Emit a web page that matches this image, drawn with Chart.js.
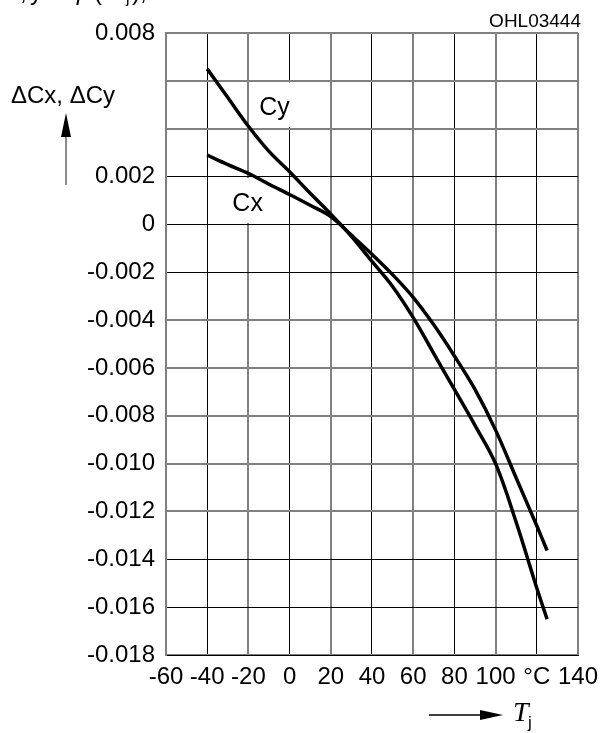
<!DOCTYPE html>
<html>
<head>
<meta charset="utf-8">
<script src="https://cdn.jsdelivr.net/npm/chart.js@4.4.1/dist/chart.umd.min.js"></script>
<style>
  body { margin: 0; background: #fff; }
  canvas { display: block; }
</style>
</head>
<body>
<canvas id="grafico" width="606" height="733"></canvas>
<script>
// temperaturas (°C)
const temperaturas = [-40, -30, -20, -10, 0, 10, 20, 30, 40, 50, 60, 70, 80, 90, 100, 110, 120, 125];
// curva Cy
const valoresCy = [0.0065, 0.0053, 0.0041, 0.00305, 0.0022, 0.0013, 0.00043, -0.0005, -0.00155, -0.0026, -0.0039, -0.0054, -0.0069, -0.0084, -0.0100, -0.01245, -0.0152, -0.0165];
// curva Cx
const valoresCx = [0.0029, 0.0025, 0.00213, 0.00168, 0.00125, 0.0008, 0.00033, -0.00045, -0.00125, -0.0021, -0.00305, -0.0042, -0.0055, -0.0069, -0.0086, -0.0106, -0.0126, -0.01363];
// etiquetas de los ejes
const etiquetasX = ["-60", "-40", "-20", "0", "20", "40", "60", "80", "100", "°C", "140"];
const ticksYOcultos = [0.006, 0.004];
const lineasYNegras = [0.002, 0, -0.002, -0.014, -0.016];

const fuente = "'Liberation Sans', Arial, sans-serif";

function puntos(valores) {
    return temperaturas.map((t, i) => ({ x: t, y: valores[i] }));
}

function esNegra(v) {
    return lineasYNegras.some(n => Math.abs(n - v) < 1e-6);
}

// etiquetas Cy / Cx con fondo blanco (tapan la cuadricula)
const pluginEtiquetas = {
    id: "etiquetas",
    beforeDatasetsDraw(chart) {
        const ctx = chart.ctx;
        const x = chart.scales.x;
        const y = chart.scales.y;
        ctx.save();
        ctx.fillStyle = "#fff";
        // caja Cy
        ctx.fillRect(x.getPixelForValue(-16), y.getPixelForValue(0.006) + 1.5,
            x.getPixelForValue(1.5) - x.getPixelForValue(-16), y.getPixelForValue(0.004) - y.getPixelForValue(0.006) - 3);
        // caja Cx
        ctx.fillRect(x.getPixelForValue(-29), y.getPixelForValue(0.002) + 1.5,
            x.getPixelForValue(-12) - x.getPixelForValue(-29), y.getPixelForValue(0) - y.getPixelForValue(0.002) - 3);
        ctx.fillStyle = "#000";
        ctx.font = "25px " + fuente;
        ctx.textBaseline = "alphabetic";
        ctx.fillText("Cy", x.getPixelForValue(-14.7), y.getPixelForValue(0.00457));
        ctx.fillText("Cx", x.getPixelForValue(-27.8), y.getPixelForValue(0.00057));
        ctx.restore();
    },
    afterDraw(chart) {
        const ctx = chart.ctx;
        ctx.save();
        ctx.fillStyle = "#000";
        ctx.strokeStyle = "#000";
        ctx.textBaseline = "alphabetic";

        // texto superior cortado
        const base = 0;
        ctx.font = "24px " + fuente;
        ctx.fillText("x,", 8, base);
        ctx.fillText("y", 30, base);
        ctx.fillText("=", 52, base);
        ctx.font = "italic 26px 'Liberation Serif', serif";
        ctx.fillText("f", 76, base);
        ctx.font = "24px " + fuente;
        ctx.fillText("(", 94, base);
        ctx.font = "italic 26px 'Liberation Serif', serif";
        ctx.fillText("T", 104, base);
        ctx.font = "16px " + fuente;
        ctx.fillText("j", 126, base + 3);
        ctx.font = "24px " + fuente;
        ctx.fillText("),", 132, base);
        ctx.fillText("I", 172, base);

        // codigo de la figura
        ctx.font = "19px " + fuente;
        ctx.textAlign = "right";
        ctx.fillText("OHL03444", 581, 27);
        ctx.textAlign = "left";

        // titulo del eje Y
        ctx.font = "24px " + fuente;
        ctx.fillText("\u0394Cx, \u0394Cy", 11, 103);

        // flecha hacia arriba
        ctx.strokeStyle = "#666";
        ctx.lineWidth = 1.5;
        ctx.beginPath();
        ctx.moveTo(66, 185);
        ctx.lineTo(66, 132);
        ctx.stroke();
        ctx.beginPath();
        ctx.moveTo(66, 113);
        ctx.lineTo(71, 137);
        ctx.lineTo(61, 137);
        ctx.closePath();
        ctx.fill();

        // flecha del eje X
        ctx.strokeStyle = "#000";
        ctx.beginPath();
        ctx.moveTo(429, 715);
        ctx.lineTo(484, 715);
        ctx.stroke();
        ctx.beginPath();
        ctx.moveTo(503, 715);
        ctx.lineTo(480, 710);
        ctx.lineTo(480, 720);
        ctx.closePath();
        ctx.fill();

        ctx.font = "italic 28px 'Liberation Serif', serif";
        ctx.fillText("T", 513, 721);
        ctx.font = "17px " + fuente;
        ctx.fillText("j", 528, 728);
        ctx.restore();
    }
};

const ctx = document.getElementById("grafico").getContext("2d");
const grafico = new Chart(ctx, {
    type: "line",
    data: {
        datasets: [
            {
                label: "Cy",
                data: puntos(valoresCy),
                borderColor: "#000",
                borderWidth: 3.5,
                pointRadius: 0,
                tension: 0.35,
                fill: false
            },
            {
                label: "Cx",
                data: puntos(valoresCx),
                borderColor: "#000",
                borderWidth: 3.5,
                pointRadius: 0,
                tension: 0.35,
                fill: false
            }
        ]
    },
    options: {
        responsive: false,
        devicePixelRatio: 1,
        animation: false,
        layout: { padding: { top: 33, right: 25, left: 0, bottom: 0 } },
        plugins: {
            legend: { display: false },
            tooltip: { enabled: false }
        },
        scales: {
            x: {
                type: "linear",
                min: -60,
                max: 140,
                afterBuildTicks(scale) {
                    scale.ticks = etiquetasX.map((_, i) => ({ value: -60 + i * 20 }));
                },
                afterFit(scale) { scale.height = 78; },
                grid: {
                    drawTicks: false,
                    color: (c) => (c.index % 2 === 0 ? "#808080" : "#000"),
                    lineWidth: (c) => (c.index % 2 === 0 ? 2 : 1)
                },
                border: { color: "#000", width: 1 },
                ticks: {
                    padding: 8,
                    color: "#000",
                    maxRotation: 0,
                    autoSkip: false,
                    font: { family: fuente, size: 24 },
                    callback: (v, i) => etiquetasX[i]
                }
            },
            y: {
                type: "linear",
                min: -0.018,
                max: 0.008,
                afterFit(scale) { scale.width = 166; },
                grid: {
                    drawTicks: false,
                    color: (c) => (esNegra(c.tick.value) ? "#000" : "#808080"),
                    lineWidth: (c) => (esNegra(c.tick.value) ? 1 : 2)
                },
                border: { color: "#808080", width: 2 },
                ticks: {
                    stepSize: 0.002,
                    padding: 11,
                    color: "#000",
                    autoSkip: false,
                    font: { family: fuente, size: 24 },
                    callback: (v) => {
                        if (ticksYOcultos.some(h => Math.abs(h - v) < 1e-6)) return "";
                        if (Math.abs(v) < 1e-9) return "0";
                        return v.toFixed(3);
                    }
                }
            }
        }
    },
    plugins: [pluginEtiquetas]
});
</script>
</body>
</html>
